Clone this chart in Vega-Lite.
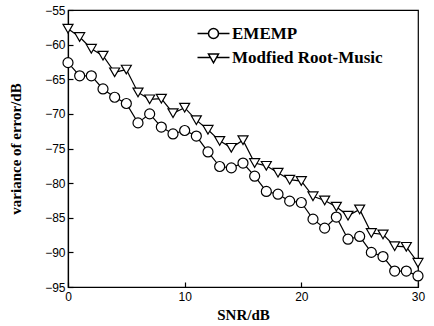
{
  "$schema": "https://vega.github.io/schema/vega-lite/v6.json",
  "width": 350,
  "height": 277,
  "autosize": {"type": "none"},
  "padding": {"left": 68, "top": 10, "right": 16, "bottom": 39},
  "background": "white",
  "config": {
    "view": {"stroke": "black", "strokeWidth": 1.2},
    "axis": {
      "grid": false,
      "domainColor": "black",
      "domainWidth": 1.2,
      "tickColor": "black",
      "tickWidth": 1.2,
      "tickSize": -5,
      "labelFont": "Liberation Sans",
      "labelFontSize": 12,
      "labelColor": "black",
      "titleFont": "Liberation Serif",
      "titleFontSize": 15,
      "titleFontWeight": "bold",
      "titleColor": "black"
    }
  },
  "data": {
    "values": [
      {"snr": 0, "method": "EMEMP", "value": -62.6},
      {"snr": 1, "method": "EMEMP", "value": -64.5},
      {"snr": 2, "method": "EMEMP", "value": -64.5},
      {"snr": 3, "method": "EMEMP", "value": -66.4},
      {"snr": 4, "method": "EMEMP", "value": -67.6},
      {"snr": 5, "method": "EMEMP", "value": -68.5},
      {"snr": 6, "method": "EMEMP", "value": -71.3},
      {"snr": 7, "method": "EMEMP", "value": -70.0},
      {"snr": 8, "method": "EMEMP", "value": -71.9},
      {"snr": 9, "method": "EMEMP", "value": -72.9},
      {"snr": 10, "method": "EMEMP", "value": -72.4},
      {"snr": 11, "method": "EMEMP", "value": -73.2},
      {"snr": 12, "method": "EMEMP", "value": -75.5},
      {"snr": 13, "method": "EMEMP", "value": -77.6},
      {"snr": 14, "method": "EMEMP", "value": -77.8},
      {"snr": 15, "method": "EMEMP", "value": -77.1},
      {"snr": 16, "method": "EMEMP", "value": -79.0},
      {"snr": 17, "method": "EMEMP", "value": -81.2},
      {"snr": 18, "method": "EMEMP", "value": -81.6},
      {"snr": 19, "method": "EMEMP", "value": -82.6},
      {"snr": 20, "method": "EMEMP", "value": -82.8},
      {"snr": 21, "method": "EMEMP", "value": -85.2},
      {"snr": 22, "method": "EMEMP", "value": -86.5},
      {"snr": 23, "method": "EMEMP", "value": -84.9},
      {"snr": 24, "method": "EMEMP", "value": -88.1},
      {"snr": 25, "method": "EMEMP", "value": -87.7},
      {"snr": 26, "method": "EMEMP", "value": -90.0},
      {"snr": 27, "method": "EMEMP", "value": -90.6},
      {"snr": 28, "method": "EMEMP", "value": -92.7},
      {"snr": 29, "method": "EMEMP", "value": -92.7},
      {"snr": 30, "method": "EMEMP", "value": -93.4},
      {"snr": 0, "method": "Modfied Root-Music", "value": -57.7},
      {"snr": 1, "method": "Modfied Root-Music", "value": -58.9},
      {"snr": 2, "method": "Modfied Root-Music", "value": -60.6},
      {"snr": 3, "method": "Modfied Root-Music", "value": -61.6},
      {"snr": 4, "method": "Modfied Root-Music", "value": -64.0},
      {"snr": 5, "method": "Modfied Root-Music", "value": -63.6},
      {"snr": 6, "method": "Modfied Root-Music", "value": -66.9},
      {"snr": 7, "method": "Modfied Root-Music", "value": -67.9},
      {"snr": 8, "method": "Modfied Root-Music", "value": -67.8},
      {"snr": 9, "method": "Modfied Root-Music", "value": -69.9},
      {"snr": 10, "method": "Modfied Root-Music", "value": -69.1},
      {"snr": 11, "method": "Modfied Root-Music", "value": -70.9},
      {"snr": 12, "method": "Modfied Root-Music", "value": -72.3},
      {"snr": 13, "method": "Modfied Root-Music", "value": -73.9},
      {"snr": 14, "method": "Modfied Root-Music", "value": -74.9},
      {"snr": 15, "method": "Modfied Root-Music", "value": -73.8},
      {"snr": 16, "method": "Modfied Root-Music", "value": -77.1},
      {"snr": 17, "method": "Modfied Root-Music", "value": -77.5},
      {"snr": 18, "method": "Modfied Root-Music", "value": -78.5},
      {"snr": 19, "method": "Modfied Root-Music", "value": -79.5},
      {"snr": 20, "method": "Modfied Root-Music", "value": -79.7},
      {"snr": 21, "method": "Modfied Root-Music", "value": -81.9},
      {"snr": 22, "method": "Modfied Root-Music", "value": -82.5},
      {"snr": 23, "method": "Modfied Root-Music", "value": -83.4},
      {"snr": 24, "method": "Modfied Root-Music", "value": -84.7},
      {"snr": 25, "method": "Modfied Root-Music", "value": -83.8},
      {"snr": 26, "method": "Modfied Root-Music", "value": -87.2},
      {"snr": 27, "method": "Modfied Root-Music", "value": -87.4},
      {"snr": 28, "method": "Modfied Root-Music", "value": -89.1},
      {"snr": 29, "method": "Modfied Root-Music", "value": -89.2},
      {"snr": 30, "method": "Modfied Root-Music", "value": -91.5}
    ]
  },
  "encoding": {
    "x": {
      "field": "snr", "type": "quantitative",
      "scale": {"domain": [0, 30], "nice": false, "zero": false},
      "axis": {"values": [0, 10, 20, 30], "title": "SNR/dB", "labelPadding": 9, "titlePadding": 5, "labelFlush": false}
    },
    "y": {
      "field": "value", "type": "quantitative",
      "scale": {"domain": [-95, -55], "nice": false, "zero": false},
      "axis": {"values": [-95, -90, -85, -80, -75, -70, -65, -60, -55], "title": "variance of error/dB", "labelPadding": 8, "titlePadding": 21}
    }
  },
  "layer": [
    {
      "mark": {"type": "line", "color": "black", "strokeWidth": 1.2},
      "encoding": {"detail": {"field": "method"}}
    },
    {
      "mark": {"type": "point", "filled": true, "fill": "white", "stroke": "black", "strokeWidth": 1.2, "size": 100, "opacity": 1},
      "encoding": {
        "shape": {
          "field": "method", "type": "nominal",
          "scale": {"domain": ["EMEMP", "Modfied Root-Music"], "range": ["circle", "triangle-down"]},
          "legend": null
        }
      }
    },
    {
      "mark": {"type": "point", "filled": true, "fill": "white", "stroke": "black", "strokeWidth": 1.2, "size": 100, "opacity": 0},
      "encoding": {
        "shape": {
          "field": "method", "type": "nominal",
          "scale": {"domain": ["EMEMP", "Modfied Root-Music"], "range": ["M-3.2,0L-1,0M1,0L3.2,0M1,0A1,1,0,1,1,-1,0A1,1,0,1,1,1,0Z", "M-3.2,0L-0.6,0M0.6,0L3.2,0M-1,-0.7L1,-0.7L0,1.05Z"]},
          "legend": {
            "title": null,
            "orient": "none",
            "legendX": 137,
            "legendY": 15,
            "padding": 0,
            "labelFont": "Liberation Serif",
            "labelFontSize": 17,
            "labelFontWeight": "bold",
            "labelColor": "black",
            "labelOffset": 10,
            "rowPadding": 6,
            "symbolSize": 100,
            "encode": {
              "symbols": {
                "stroke": {"value": "black"},
                "strokeWidth": {"value": 1.2},
                "fill": {"value": "white"},
                "opacity": {"value": 1}
              }
            }
          }
        }
      }
    }
  ],
  "resolve": {"scale": {"shape": "independent"}}
}
